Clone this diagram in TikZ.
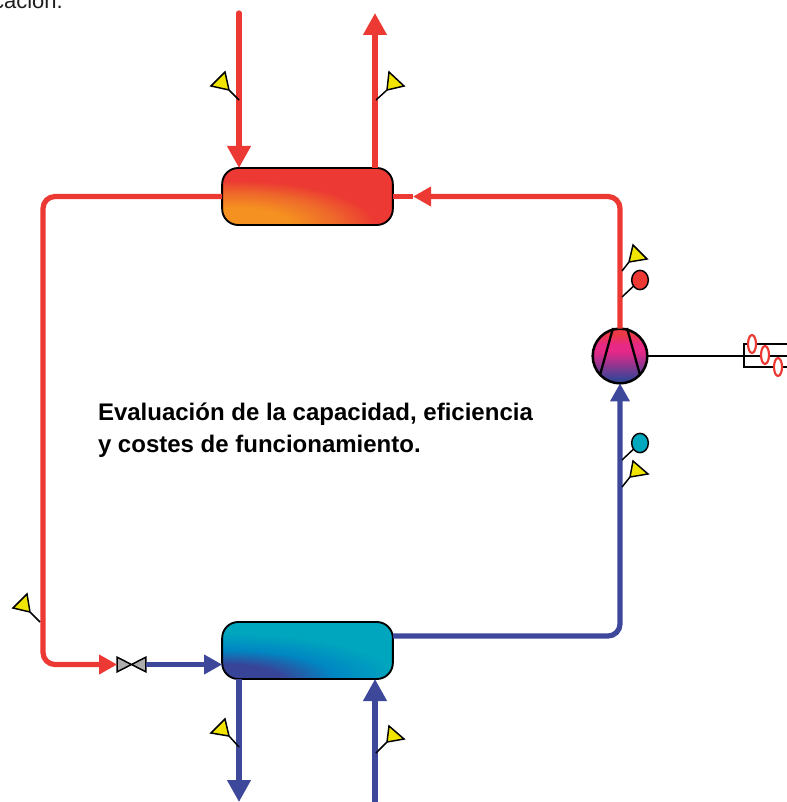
\documentclass[tikz,border=0pt]{standalone}
\usepackage{fontspec}
\setmainfont{Liberation Sans}
\usetikzlibrary{arrows.meta,shapes.geometric,calc}
\definecolor{pipered}{RGB}{236,57,51}
\definecolor{pipeblue}{RGB}{62,72,155}
\definecolor{flagyellow}{RGB}{240,228,0}
\definecolor{probecyan}{RGB}{0,168,190}
\definecolor{condorange}{RGB}{245,145,32}
\definecolor{condmid}{RGB}{238,105,42}
\definecolor{evapteal}{RGB}{0,165,190}
\definecolor{evapblue}{RGB}{0,135,195}
\definecolor{evapdark}{RGB}{56,68,152}
\definecolor{compred}{RGB}{236,57,70}
\definecolor{compmag}{RGB}{230,40,135}
\definecolor{textgrey}{RGB}{30,30,30}
\pgfdeclareradialshading{condshade}{\pgfpoint{0bp}{0bp}}{color(0bp)=(condorange); color(10bp)=(condorange); color(18bp)=(condmid); color(25bp)=(pipered); color(50bp)=(pipered)}
\pgfdeclareradialshading{evapshade}{\pgfpoint{0bp}{0bp}}{color(0bp)=(evapdark); color(8bp)=(evapdark); color(16bp)=(evapblue); color(25bp)=(evapteal); color(50bp)=(evapteal)}
\pgfdeclareverticalshading{compshade}{100bp}{color(0bp)=(evapdark); color(29bp)=(evapdark); color(54bp)=(compmag); color(60bp)=(compmag); color(70bp)=(compred); color(100bp)=(compred)}
\tikzset{
  x=0.75pt,y=-0.75pt,
  redpipe/.style={line width=3.9pt,draw=pipered},
  bluepipe/.style={line width=3.9pt,draw=pipeblue},
  smalltip/.style={-{Triangle[length=13.5pt,width=14pt]}},
  bigtip/.style={-{Triangle[length=16.5pt,width=17pt]}},
  vessel/.style={rectangle,draw=black,line width=1.4pt,rounded corners=12pt,minimum width=128pt,minimum height=42.75pt,inner sep=0pt,outer sep=0pt},
  flag/.style={draw=black,line width=1.1pt,fill=flagyellow,line join=miter},
  stem/.style={draw=black,line width=1.1pt},
  probe/.style={ellipse,draw=black,line width=1.1pt,minimum width=12.5pt,minimum height=14.5pt,inner sep=0pt,outer sep=0pt},
  turn/.style={ellipse,draw=pipered,line width=1.6pt,fill=white,minimum width=6pt,minimum height=13.5pt,inner sep=0pt,outer sep=0pt},
  caption/.style={font=\bfseries\fontsize{18pt}{21pt}\selectfont,anchor=base west,inner sep=0pt,outer sep=0pt,text=black},
}
\newcommand{\flagat}[5]{%
  \coordinate (#1) at (#2);
  \coordinate (#1v) at (#3);
  \draw[stem] (#1) -- (#1v);
  \draw[flag] (#1v) -- (#4) -- (#5) -- cycle;
}
\begin{document}
\begin{tikzpicture}
\useasboundingbox (0,0) rectangle (787,802);
% vessels
\node[vessel,path picture={
  \fill[pipered] (path picture bounding box.south west) rectangle (path picture bounding box.north east);
  \shade[shading=condshade,shift={(path picture bounding box.center)}] (-72,29) ellipse (140 and 45);
}] (cond) at (307.5,196.5) {};
\node[vessel,path picture={
  \fill[evapteal] (path picture bounding box.south west) rectangle (path picture bounding box.north east);
  \shade[shading=evapshade,shift={(path picture bounding box.center)}] (-82,28) ellipse (170 and 45);
}] (evap) at (307.5,650.5) {};
% compressor
\node[circle,draw=black,line width=1.9pt,minimum size=41pt,inner sep=0pt,outer sep=0pt,shading=compshade] (comp) at (620,356) {};
\draw[black,line width=1.7pt] (613,328) -- (600,375);
\draw[black,line width=1.7pt] (627,328) -- (640,375);
% shaft and coupling
\coordinate (shaftend) at (787,356);
\coordinate (cpl1) at (787,344);
\coordinate (cpl2) at (744,344);
\coordinate (cpl3) at (744,367);
\coordinate (cpl4) at (787,367);
\draw[black,line width=1.1pt] (comp.east) -- (shaftend);
\draw[black,line width=0.9pt] (cpl1) -- (cpl2) -- (cpl3) -- (cpl4);
\node[turn] (t1) at (752,344) {};
\node[turn] (t2) at (765,355) {};
\node[turn] (t3) at (778,367) {};
% valve
\node[minimum width=21.5pt,minimum height=11pt,inner sep=0pt,outer sep=0pt] (valve) at (131.5,664.5) {};
\draw[black,fill=black!32,line width=1.1pt,line join=miter] (valve.north west) -- (valve.south east) -- (valve.north east) -- (valve.south west) -- cycle;
% free ends and bends
\coordinate (hin) at (239,13);
\coordinate (hout) at (375,13);
\coordinate (cin) at (375,802);
\coordinate (cout) at (239,802);
\coordinate (rb1) at (620,196.5);
\coordinate (midtip) at (413,196.5);
\coordinate (lb1) at (43,196.5);
\coordinate (lb2) at (43,664.5);
\coordinate (bb1) at (620,636);
\coordinate (evout) at (393,636);
% pipes
\draw[redpipe,bigtip,line cap=round] (hin) -- (cond.north -| hin);
\draw[redpipe,bigtip] (cond.north -| hout) -- (hout);
\draw[redpipe,smalltip,rounded corners=9pt] (comp.north) -- (rb1) -- (midtip);
\draw[redpipe] (midtip) -- (cond.east);
\draw[redpipe,smalltip,rounded corners=9pt] (cond.west) -- (lb1) -- (lb2) -- (valve.west);
\draw[bluepipe,smalltip] (valve.east) -- (evap.west |- valve.east);
\draw[bluepipe,smalltip,rounded corners=9pt] (evout) -- (bb1) -- (comp.south);
\draw[bluepipe,bigtip] (evap.south -| cout) -- (cout);
\draw[bluepipe,bigtip] (cin) -- (evap.south -| cin);
% temperature flags
\flagat{f1}{239,100}{229,90}{225,72}{211,86}
\flagat{f2}{376,100}{387,90}{389,72}{404,86}
\flagat{f3}{622,271}{629,262}{633,245}{647,259}
\flagat{f4}{622,487}{630,477}{633,461}{648,474}
\flagat{f5}{40,622}{30,612}{27,594}{13,608}
\flagat{f6}{239,747}{229,736}{225,719}{211,733}
\flagat{f7}{376,753}{387,742}{389,726}{404,739}
% probes
\coordinate (p1) at (622,297);
\coordinate (p2) at (622,460);
\node[probe,fill=pipered] (hotprobe) at (640,280) {};
\node[probe,fill=probecyan] (coldprobe) at (640,443) {};
\draw[stem] (p1) -- (hotprobe);
\draw[stem] (p2) -- (coldprobe);
% texts
\node[caption] (cap1) at (98,420) {Evaluación de la capacidad, eficiencia};
\node[caption] (cap2) at (98,452.5) {y costes de funcionamiento.};
\node[anchor=base east,inner sep=0pt,text=textgrey,font=\fontsize{16.5pt}{18pt}\selectfont] (frag) at (63,9) {cación.};
\end{tikzpicture}
\end{document}
